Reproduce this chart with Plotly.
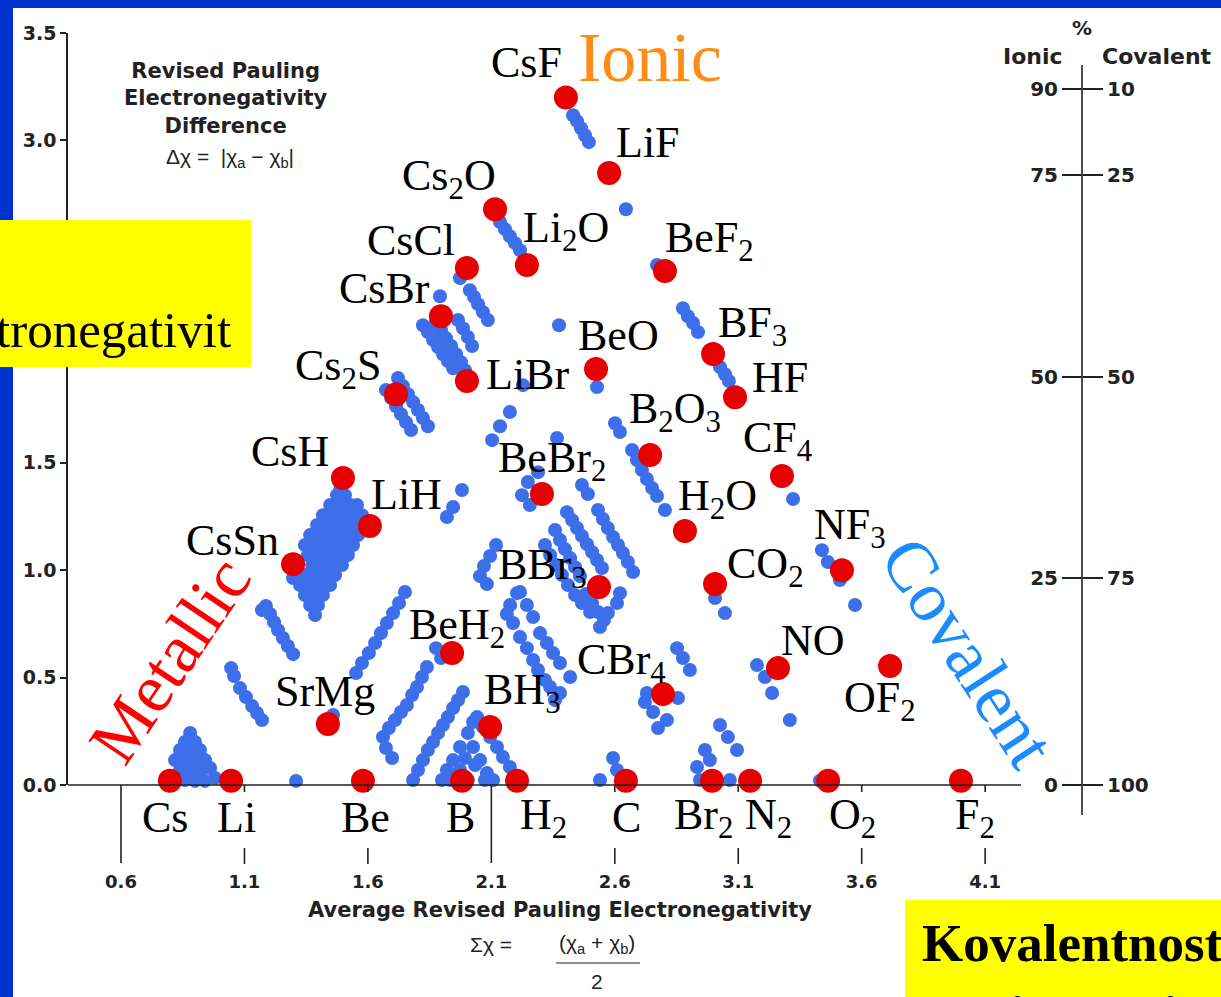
import re
import plotly.graph_objects as go

# ---------------- data ----------------
red_names = ["CsF", "LiF", "Cs2O", "Li2O", "CsCl", "BeF2", "CsBr", "BeO", "BF3", "LiBr",
             "HF", "Cs2S", "B2O3", "CF4", "CsH", "BeBr2", "LiH", "H2O", "CsSn", "NF3",
             "BBr3", "CO2", "BeH2", "NO", "OF2", "CBr4", "SrMg", "BH3",
             "Cs", "Li", "Be", "B", "H2", "C", "Br2", "N2", "O2", "F2"]
red_x = [2.402, 2.577, 2.115, 2.244, 2.001, 2.803, 1.896, 2.524, 2.998, 2.001,
         3.087, 1.714, 2.743, 3.277, 1.499, 2.305, 1.608, 2.884, 1.297, 3.520,
         2.536, 3.006, 1.941, 3.261, 3.715, 2.795, 1.438, 2.095,
         0.798, 1.046, 1.580, 1.981, 2.204, 2.645, 2.994, 3.148, 3.464, 4.002]
red_y = [3.200, 2.848, 2.680, 2.420, 2.406, 2.392, 2.182, 1.936, 2.006, 1.880,
         1.805, 1.819, 1.536, 1.438, 1.429, 1.354, 1.205, 1.182, 1.028, 1.000,
         0.921, 0.935, 0.614, 0.544, 0.554, 0.423, 0.284, 0.270,
         0.02, 0.02, 0.02, 0.02, 0.02, 0.02, 0.02, 0.02, 0.02, 0.02]

blue_x = [
    # CsF - LiF
    2.431, 2.447, 2.463, 2.479, 2.495, 2.645,
    # Cs2O - Li2O
    2.135, 2.155, 2.175, 2.196, 2.216, 2.771,
    # BF3 - HF
    2.876, 2.896, 2.917, 2.937, 3.026, 3.046, 3.062,
    # CsCl
    1.973, 2.013, 2.030, 2.046, 2.066, 2.086,
    # CsBr - LiBr
    1.823, 1.843, 1.864, 1.884, 1.904, 1.924, 1.945,
    1.876, 1.896, 1.916, 1.937, 1.957, 1.977, 1.993,
    1.965, 1.985, 2.005, 2.022, 1.892,
    # Cs2S
    1.722, 1.742, 1.762, 1.783, 1.803, 1.823, 1.843,
    1.673, 1.694, 1.714, 1.734, 1.754, 1.775,
    # misc middle
    2.228, 2.374, 2.528, 2.175, 2.135, 2.103, 1.981, 1.945, 1.920,
    # BeBr2
    2.366, 2.289, 2.248, 2.224, 2.256, 2.467, 2.491,
    # B2O3 - H2O
    2.601, 2.621, 2.670, 2.690, 2.710, 2.730, 2.751, 2.771, 2.803,
    # CF4 - NF3
    3.322, 3.439, 3.463, 3.512, 3.573,
    # CO2
    3.006, 3.046,
    # NO
    3.176, 3.208, 3.237, 3.309,
    # CBr4
    2.852, 2.876, 2.904, 2.730, 2.722, 2.755, 2.775, 2.811, 2.856,
    # Br2
    3.026, 3.058, 3.095, 2.965, 2.933, 2.985, 3.006, 3.066, 2.945,
    # C, O2
    2.593, 2.609, 2.540, 3.431,
    # BBr3 stripes
    2.406, 2.427, 2.447, 2.467, 2.487, 2.508, 2.528, 2.548,
    2.532, 2.552, 2.572, 2.593, 2.613, 2.633, 2.653, 2.674,
    2.358, 2.378, 2.398, 2.419, 2.439, 2.459, 2.483, 2.508, 2.532, 2.556,
    2.317, 2.338, 2.362, 2.386, 2.410, 2.439, 2.467, 2.500, 2.540,
    2.621, 2.609, 2.572,
    2.119, 2.095, 2.070, 2.054, 2.082, 2.216,
    # middle stripes
    2.204, 2.176, 2.188, 2.216, 2.244, 2.269, 2.289, 2.317, 2.338, 2.163, 2.244,
    2.269, 2.297, 2.325, 2.350, 2.378, 2.419, 2.378, 2.358,
    # stripe up to BeH2 (upper)
    1.750, 1.726, 1.702, 1.677, 1.653, 1.629, 1.604, 1.576, 1.552,
    # stripe up to BeH2 (lower)
    1.661, 1.685, 1.710, 1.734, 1.758, 1.779, 1.799, 1.819, 1.839, 1.876, 1.896, 1.673, 1.698,
    # B triangle
    1.783, 1.803, 1.823, 1.843, 1.864, 1.884, 1.904, 1.924, 1.945, 1.965, 1.985,
    1.900, 1.920, 1.945, 1.973, 2.005, 2.026,
    2.042, 2.066, 2.095, 2.123, 2.147, 2.175, 2.196,
    2.026, 2.054, 2.082, 2.107,
    1.973, 2.005, 2.034, 1.993, 2.074, 1.933,
    # metallic stripes
    1.187, 1.204, 1.220, 1.236, 1.256, 1.276, 1.297, 1.171,
    1.046, 1.058, 1.082, 1.106, 1.131, 1.151, 1.171,
    # Cs - Li cluster
    0.880, 0.859, 0.900, 0.839, 0.880, 0.920, 0.819, 0.859, 0.900, 0.940, 0.961,
    0.839, 0.880, 0.920, 0.981, 0.859, 0.900, 0.940,
    1.309, 1.459,
    # CsH / LiH / CsSn cluster
    1.475, 1.507,
    1.447, 1.487, 1.528, 1.556,
    1.418, 1.459, 1.499, 1.540, 1.576,
    1.394, 1.434, 1.475, 1.515, 1.556,
    1.366, 1.406, 1.447, 1.487, 1.528, 1.560,
    1.345, 1.386, 1.426, 1.467, 1.507, 1.540,
    1.357, 1.398, 1.438, 1.479, 1.519,
    1.374, 1.414, 1.455, 1.495,
    1.345, 1.386, 1.426, 1.467,
    1.325, 1.366, 1.406, 1.447,
    1.345, 1.386, 1.418,
    1.366, 1.398,
    1.386, 1.487, 1.297,
]
blue_y = [
    3.117, 3.090, 3.057, 3.024, 2.992, 2.680,
    2.620, 2.587, 2.554, 2.522, 2.489, 2.420,
    2.219, 2.182, 2.150, 2.108, 1.945, 1.912, 1.880,
    2.359, 2.303, 2.271, 2.238, 2.201, 2.164,
    2.140, 2.108, 2.071, 2.038, 2.005, 1.973, 1.940,
    2.154, 2.117, 2.080, 2.043, 2.005, 1.968, 1.931,
    2.164, 2.126, 2.085, 2.043, 2.275,
    1.894, 1.857, 1.819, 1.782, 1.745, 1.708, 1.670,
    1.838, 1.801, 1.763, 1.726, 1.689, 1.652,
    1.861, 2.140, 1.852, 1.736, 1.670, 1.605, 1.373, 1.294, 1.247,
    1.615, 1.456, 1.410, 1.349, 1.303, 1.396, 1.354,
    1.684, 1.643, 1.559, 1.512, 1.466, 1.424, 1.382, 1.345, 1.280,
    1.331, 1.093, 1.038, 0.954, 0.838,
    0.870, 0.800,
    0.558, 0.503, 0.428, 0.302,
    0.637, 0.591, 0.535, 0.428, 0.386, 0.340, 0.265, 0.302, 0.405,
    0.279, 0.223, 0.163, 0.163, 0.084, 0.116, 0.037, 0.023, 0.023,
    0.126, 0.070, 0.023, 0.020,
    1.270, 1.233, 1.196, 1.159, 1.121, 1.084, 1.047, 1.010,
    1.280, 1.238, 1.196, 1.154, 1.117, 1.080, 1.038, 0.991,
    1.187, 1.140, 1.098, 1.056, 1.014, 0.972, 0.889, 0.847, 0.805, 0.768,
    1.117, 1.070, 1.024, 0.977, 0.931, 0.884, 0.847, 0.805, 0.735,
    0.893, 0.847, 0.800,
    1.117, 1.066, 1.019, 0.972, 0.935, 0.898,
    0.893, 0.838, 0.754, 0.689, 0.637, 0.582, 0.535, 0.489, 0.456, 0.796, 0.838,
    0.782, 0.707, 0.661, 0.614, 0.568, 0.503, 0.428, 0.395,
    0.898, 0.847, 0.800, 0.754, 0.707, 0.661, 0.614, 0.568, 0.521,
    0.223, 0.265, 0.302, 0.340, 0.372, 0.419, 0.456, 0.503, 0.549, 0.637, 0.591, 0.172, 0.126,
    0.023, 0.070, 0.116, 0.163, 0.200, 0.242, 0.279, 0.316, 0.358, 0.395, 0.433,
    0.023, 0.070, 0.116, 0.177, 0.242, 0.293,
    0.316, 0.270, 0.223, 0.177, 0.130, 0.084, 0.037,
    0.177, 0.116, 0.056, 0.023,
    0.070, 0.023, 0.093, 0.126, 0.023, 0.023,
    0.833, 0.796, 0.758, 0.721, 0.684, 0.647, 0.609, 0.814,
    0.544, 0.507, 0.451, 0.409, 0.368, 0.335, 0.302,
    0.242, 0.200, 0.200, 0.163, 0.154, 0.163, 0.116, 0.107, 0.107, 0.116, 0.079,
    0.070, 0.060, 0.060, 0.033, 0.023, 0.019, 0.019,
    0.019, 0.326,
    1.349, 1.349,
    1.303, 1.303, 1.303, 1.303,
    1.256, 1.256, 1.256, 1.256, 1.256,
    1.210, 1.210, 1.210, 1.210, 1.210,
    1.163, 1.163, 1.163, 1.163, 1.163, 1.163,
    1.117, 1.117, 1.117, 1.117, 1.117, 1.117,
    1.070, 1.070, 1.070, 1.070, 1.070,
    1.024, 1.024, 1.024, 1.024,
    0.977, 0.977, 0.977, 0.977,
    0.931, 0.931, 0.931, 0.931,
    0.884, 0.884, 0.884,
    0.838, 0.838,
    0.791, 1.373, 0.963,
]

x_tick_vals = [0.6, 1.1, 1.6, 2.1, 2.6, 3.1, 3.6, 4.1]
x_tick_text = ["0.6", "1.1", "1.6", "2.1", "2.6", "3.1", "3.6", "4.1"]
x_long_ticks = [0.6, 2.1]
y_tick_vals = [0.0, 0.5, 1.0, 1.5, 2.0, 2.5, 3.0, 3.5]
y_tick_text = ["0.0", "0.5", "1.0", "1.5", "2.0", "2.5", "3.0", "3.5"]
pct_tick_pos = [0.0, 0.963, 1.90, 2.84, 3.24]
pct_ionic = ["0", "25", "50", "75", "90"]
pct_covalent = ["100", "75", "50", "25", "10"]

# ---------------- label placement (pixel offsets from each red point) ----------------
label_shift = {
    "CsF": (-39, -35), "LiF": (39, -31), "Cs2O": (-46, -31), "Li2O": (39, -35),
    "CsCl": (-56, -28), "BeF2": (45, -31), "CsBr": (-56, -28), "BeO": (22, -34),
    "BF3": (39, -29), "LiBr": (61, -7), "HF": (45, -20), "Cs2S": (-58, -26),
    "B2O3": (25, -43), "CF4": (-4, -36), "CsH": (-53, -26), "BeBr2": (10, -34),
    "LiH": (37, -32), "H2O": (33, -33), "CsSn": (-61, -24), "NF3": (8, -43),
    "BBr3": (-57, -20), "CO2": (50, -18), "BeH2": (5, -26), "NO": (35, -28),
    "OF2": (-10, 35), "CBr4": (-41, -32), "SrMg": (-3, -32), "BH3": (32, -34),
    "Cs": (-5, 37), "Li": (5, 37), "Be": (3, 37), "B": (-1, 37), "H2": (26, 37),
    "C": (1, 37), "Br2": (-9, 37), "N2": (18, 37), "O2": (24, 37), "F2": (14, 37),
}

# ---------------- geometry ----------------
W, H = 1221, 997
L, T = 68, 33          # plot-area left / top in pixels
PB = 785               # pixel row of y = 0
PX06, PXU = 121, 246.9  # pixel of x = 0.6, pixels per x-unit
x_range = [0.6 - (PX06 - L) / PXU, 0.6 + (W - PX06) / PXU]
y_range = [0.0, 3.5]
x_axis_end = 0.6 + (1021 - PX06) / PXU


def pxx(p):
    return (p - L) / (W - L)


def pxy(p):
    return (PB - p) / (PB - T)


def fmt(n):
    return re.sub(r"(\d+)", r"<sub>\1</sub>", n)


SERIF = "Liberation Serif, Times New Roman, serif"
SANS = "DejaVu Sans, Arial, sans-serif"
REG = "Liberation Sans, Arial, sans-serif"
AX = "#222222"

fig = go.Figure()
fig.add_trace(go.Scatter(x=blue_x, y=blue_y, mode="markers",
                         marker=dict(size=14, color="#3E6FEA", line=dict(width=0)),
                         cliponaxis=False, hoverinfo="skip", showlegend=False))
fig.add_trace(go.Scatter(x=red_x, y=red_y, mode="markers",
                         marker=dict(size=24, color="#E60000", line=dict(width=0)),
                         cliponaxis=False, hoverinfo="skip", showlegend=False))
fig.add_trace(go.Scatter(x=[None], y=[None], yaxis="y2", showlegend=False, hoverinfo="skip"))
fig.add_trace(go.Scatter(x=[None], y=[None], yaxis="y3", showlegend=False, hoverinfo="skip"))

ann = []
for n, x, y in zip(red_names, red_x, red_y):
    dx, dy = label_shift[n]
    ann.append(dict(x=x, y=y, xref="x", yref="y", text=fmt(n), showarrow=False,
                    xanchor="center", yanchor="middle",
                    xshift=dx, yshift=-dy, font=dict(family=SERIF, size=44, color="black")))

deco = [
    dict(x=pxx(650), y=pxy(58), text="Ionic", font=dict(family=SERIF, size=70, color="#FF8A14")),
    dict(x=pxx(170), y=pxy(660), text="Metallic", textangle=-56,
         font=dict(family=SERIF, size=69, color="#FF0000")),
    dict(x=pxx(968), y=pxy(652), text="Covalent", textangle=57,
         font=dict(family=SERIF, size=71, color="#1A8CFF")),
    dict(x=pxx(226), y=pxy(99), text="<b>Revised Pauling<br>Electronegativity<br>Difference</b>",
         font=dict(family=SANS, size=21, color=AX)),
    dict(x=pxx(230), y=pxy(158), text="Δχ =  |χ<sub>a</sub> − χ<sub>b</sub>|",
         font=dict(family=REG, size=21, color=AX)),
    dict(x=pxx(560), y=pxy(910), text="<b>Average Revised Pauling Electronegativity</b>",
         font=dict(family=SANS, size=21, color=AX)),
    dict(x=pxx(514), y=pxy(944), text="Σχ =", xanchor="right",
         font=dict(family=REG, size=21, color=AX)),
    dict(x=pxx(597), y=pxy(944), text="(χ<sub>a</sub> + χ<sub>b</sub>)",
         font=dict(family=REG, size=21, color=AX)),
    dict(x=pxx(597), y=pxy(981), text="2", font=dict(family=REG, size=21, color=AX)),
    dict(x=pxx(1082), y=pxy(28), text="<b>%</b>", font=dict(family=SANS, size=20, color=AX)),
    dict(x=pxx(1033), y=pxy(57), text="<b>Ionic</b>", font=dict(family=SANS, size=22, color=AX)),
    dict(x=pxx(1157), y=pxy(57), text="<b>Covalent</b>", font=dict(family=SANS, size=22, color=AX)),
    dict(x=pxx(113), y=pxy(330), text="tronegativit", font=dict(family=SERIF, size=51, color="black")),
    dict(x=pxx(920), y=pxy(943), text="<b>Kovalentnost</b>", xanchor="left",
         font=dict(family=SERIF, size=53, color="black")),
    dict(x=pxx(945), y=pxy(1014), text="vzrůstá s průměrnou", xanchor="left",
         font=dict(family=SERIF, size=46, color="black")),
]
for a in deco:
    a.setdefault("xref", "paper")
    a.setdefault("yref", "paper")
    a.setdefault("showarrow", False)
    a.setdefault("xanchor", "center")
    a.setdefault("yanchor", "middle")
ann += deco

shapes = [
    # white page on the blue frame
    dict(type="rect", xref="paper", yref="paper", x0=pxx(13), x1=pxx(1230), y0=pxy(1005), y1=pxy(8),
         fillcolor="white", line=dict(width=0), layer="below"),
    # x baseline
    dict(type="line", xref="x", yref="paper", x0=x_range[0], x1=x_axis_end, y0=0, y1=0,
         line=dict(color=AX, width=1.6)),
    # right percent axis line
    dict(type="line", xref="paper", yref="paper", x0=pxx(1082), x1=pxx(1082), y0=pxy(815), y1=pxy(65),
         line=dict(color=AX, width=1.6)),
    # fraction bar
    dict(type="line", xref="paper", yref="paper", x0=pxx(556), x1=pxx(640), y0=pxy(963), y1=pxy(963),
         line=dict(color=AX, width=1.2)),
]
for v in x_tick_vals:
    if v in x_long_ticks:
        shapes.append(dict(type="line", xref="x", yref="paper", x0=v, x1=v, y0=0, y1=pxy(863),
                           line=dict(color=AX, width=1.6)))
    else:
        shapes.append(dict(type="line", xref="x", yref="paper", x0=v, x1=v, y0=pxy(848), y1=pxy(864),
                           line=dict(color=AX, width=1.6)))
        shapes.append(dict(type="line", xref="x", yref="paper", x0=v, x1=v, y0=0, y1=pxy(792),
                           line=dict(color=AX, width=1.6)))
# yellow boxes on top
shapes += [
    dict(type="rect", xref="paper", yref="paper", x0=pxx(-2), x1=pxx(251), y0=pxy(367), y1=pxy(220),
         fillcolor="#FFFF00", line=dict(width=0), layer="above"),
    dict(type="rect", xref="paper", yref="paper", x0=pxx(905), x1=pxx(1230), y0=pxy(1005), y1=pxy(900),
         fillcolor="#FFFF00", line=dict(width=0), layer="above"),
]

fig.update_layout(
    width=W, height=H, autosize=False,
    margin=dict(l=L, r=0, t=T, b=H - PB, pad=0),
    paper_bgcolor="#0033CC", plot_bgcolor="white",
    showlegend=False, hovermode=False,
    xaxis=dict(range=x_range, showgrid=False, zeroline=False, showline=False,
               tickvals=x_tick_vals, ticktext=x_tick_text, ticks="",
               ticklabelstandoff=84, tickfont=dict(family=SANS, size=18, color=AX, weight="bold")),
    yaxis=dict(range=y_range, showgrid=False, zeroline=False, showline=True,
               linecolor=AX, linewidth=1.6, ticks="outside", ticklen=6, tickwidth=1.6,
               tickcolor=AX, tickvals=y_tick_vals, ticktext=y_tick_text,
               tickfont=dict(family=SANS, size=19, color=AX, weight="bold")),
    yaxis2=dict(range=y_range, overlaying="y", anchor="free", position=pxx(1082), side="left",
                showgrid=False, zeroline=False, showline=False, ticks="outside", ticklen=20,
                tickwidth=1.6, tickcolor=AX, tickvals=pct_tick_pos, ticktext=pct_ionic,
                tickfont=dict(family=SANS, size=20, color=AX, weight="bold")),
    yaxis3=dict(range=y_range, overlaying="y", anchor="free", position=pxx(1082), side="right",
                showgrid=False, zeroline=False, showline=False, ticks="outside", ticklen=20,
                tickwidth=1.6, tickcolor=AX, tickvals=pct_tick_pos, ticktext=pct_covalent,
                tickfont=dict(family=SANS, size=20, color=AX, weight="bold")),
    annotations=ann,
    shapes=shapes,
)

fig.write_html("out.html", config={"displayModeBar": False},
               post_script="document.body.style.margin='0';document.body.style.overflow='hidden';")
